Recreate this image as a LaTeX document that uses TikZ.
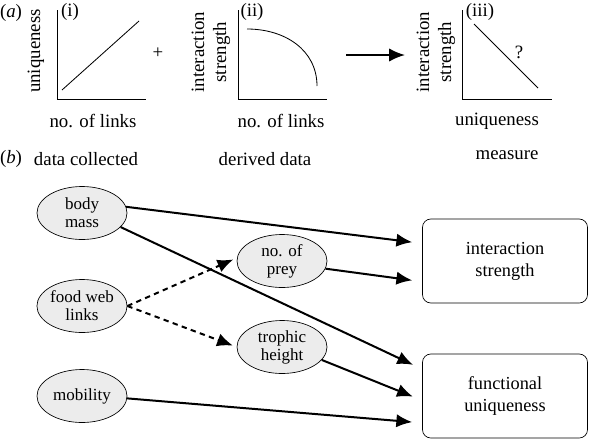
\documentclass[tikz,border=0pt]{standalone}
\usepackage{fontspec}
\setmainfont{Liberation Serif}
\usetikzlibrary{arrows.meta,shapes.geometric}

\tikzset{
  datum/.style={draw, ellipse, fill=gray!15, minimum width=54pt, minimum height=31.8pt,
    inner sep=0pt, align=center, font=\fontsize{10.2}{10.8}\selectfont},
  measurebox/.style={draw, rounded corners=5pt, minimum width=99pt, minimum height=50.4pt,
    align=center, font=\fontsize{11}{13.2}\selectfont},
  link/.style={line width=1.2pt, -{Latex[length=9.5pt,width=8pt]}, shorten >=6pt},
  derived/.style={link, dash pattern=on 3.2pt off 2.6pt, shorten >=2.4pt},
  axis/.style={line width=0.6pt},
  txt/.style={font=\fontsize{11.3}{13.2}\selectfont, inner sep=0pt, align=center}
}

\begin{document}
\begin{tikzpicture}[x=0.6pt, y=-0.6pt]
                \useasboundingbox (0,0) rectangle (589,439);

                \coordinate (O1) at (57,99);
                \coordinate (O2) at (238,99);
                \coordinate (O3) at (462,99);
                \coordinate (arrL) at (346,55);
                \coordinate (arrR) at (405,55);

                \draw[axis] (57,10) -- (O1) -- (146,99);
                \draw[axis] (238,10) -- (O2) -- (327,99);
                \draw[axis] (462,10) -- (O3) -- (552,99);

                \draw[line width=0.5pt] (62,90) -- (139,21);
                \draw[line width=0.5pt] (247,29) .. controls (285,29) and (317,50) .. (317,86);
                \draw[line width=0.5pt] (474,24) -- (538,88);
                \draw[link, shorten >=0pt] (arrL) -- (arrR);

                \node[txt] (pa) at (11,13) {(\textit{a})};
                \node[txt] (p1) at (70,12) {(i)};
                \node[txt] (p2) at (252,12) {(ii)};
                \node[txt] (p3) at (480,12) {(iii)};
                \node[txt] (plus) at (158,53) {+};
                \node[txt] (qm) at (519,52) {?};

                \node[txt, rotate=90] (y1) at (36,51) {uniqueness};
                \node[txt, rotate=90] (y2) at (211,52) {interaction\\strength};
                \node[txt, rotate=90] (y3) at (436,52) {interaction\\strength};
                \node[txt] (x1) at (93,121) {no. of links};
                \node[txt] (x2) at (281,121) {no. of links};
                \node[txt] (x3) at (497,121) {uniqueness};

                \node[txt] (pb) at (11,159) {(\textit{b})};
                \node[txt] (col1) at (86,159) {data collected};
                \node[txt] (col2) at (265,159) {derived data};
                \node[txt] (col3) at (507,155) {measure};

                \node[datum] (bm) at (82,213) {body\\mass};
                \node[datum] (fw) at (82,306) {food web\\links};
                \node[datum] (mob) at (82,396) {mobility};
                \node[datum] (prey) at (282,261) {no. of\\prey};
                \node[datum] (th) at (282,347) {trophic\\height};
                \node[measurebox] (is) at (505,261) {interaction\\strength};
                \node[measurebox] (fu) at (505,396) {functional\\uniqueness};

                \draw[link] (bm.8) -- (is.168.5);
                \draw[link] (prey.-10) -- (is.-166);
                \draw[link] (bm.-20) -- (fu.162);
                \draw[link] (th.-18) -- (fu.183.5);
                \draw[link] (mob.-3) -- (fu.-162);
                \draw[derived] (fw.east) -- (prey.176);
                \draw[derived] (fw.east) -- (th.west);

                \end{tikzpicture}
\end{document}
